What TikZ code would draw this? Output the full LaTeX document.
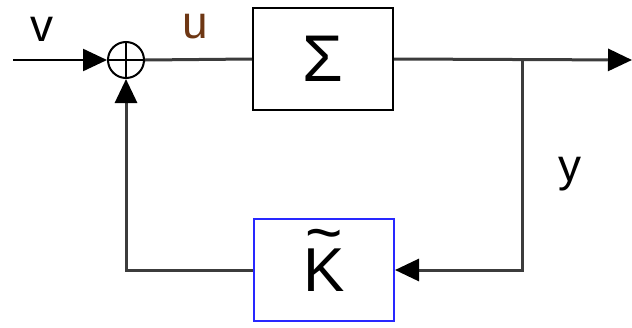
\documentclass[tikz,border=0pt]{standalone}
\usepackage{fontspec}
\setmainfont{Liberation Sans}
\usetikzlibrary{arrows.meta}
\definecolor{lncol}{RGB}{60,60,60}
\definecolor{ucol}{RGB}{110,55,20}
\definecolor{kblue}{RGB}{40,40,255}
\begin{document}
\begin{tikzpicture}[x=0.5pt,y=-0.5pt,
  blk/.style={draw=black,line width=1pt,minimum width=70pt,minimum height=51pt,inner sep=0pt},
  sig/.style={draw=lncol,line width=1.5pt},
  tip/.style={-{Triangle[length=12pt,width=11pt,black]}},
  lbl/.style={font=\fontsize{23}{26}\selectfont,inner sep=0pt}]
\useasboundingbox (0,0) rectangle (632,327);
\node[blk,font=\fontsize{33}{36}\selectfont] (S) at (323,59) {Σ};
\node[blk,draw=kblue,font=\fontsize{31}{34}\selectfont] (K) at (324,270) {\raisebox{-2.5pt}{\rlap{\smash{\hspace{1pt}\raisebox{18.5pt}{\fontsize{32}{32}\selectfont\char"007E}}}K}};
\node[circle,draw=black,line width=1pt,minimum size=18pt,inner sep=0pt] (sum) at (126,60) {};
\draw[black,line width=0.7pt] (sum.north) -- (sum.south) (sum.west) -- (sum.east);
\coordinate (in) at (13,60);
\coordinate (out) at (632,60);
\coordinate (br) at (522,60);
\coordinate (brd) at (522,270);
\coordinate (fl) at (126,270);
\draw[sig,black,line width=1.2pt,tip] (in) -- (sum.west);
\draw[sig] (sum.east) -- (S.west);
\draw[sig,tip] (S.east) -- (out);
\draw[sig,tip] (br) -- (brd) -- (K.east);
\draw[sig,tip] (K.west) -- (fl) -- (sum.south);
\node[lbl] (v) at (42,29) {v};
\node[lbl,text=ucol] (u) at (195,27) {u};
\node[lbl] (y) at (570,174) {y};
\end{tikzpicture}
\end{document}
